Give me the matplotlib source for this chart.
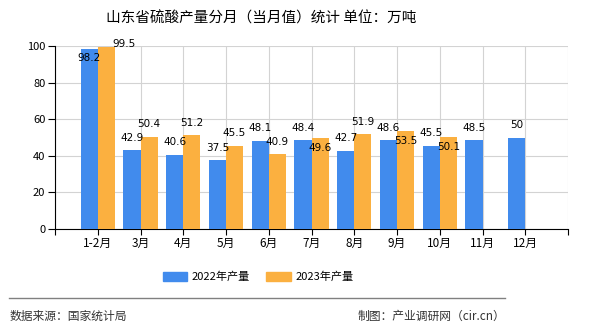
import matplotlib
matplotlib.use("Agg")
import matplotlib.pyplot as plt
from matplotlib.patches import Patch
import numpy as np

plt.rcParams['font.family'] = ['Noto Sans CJK SC', 'DejaVu Sans']

# data
months = ["1-2月", "3月", "4月", "5月", "6月", "7月", "8月", "9月", "10月", "11月", "12月"]
prod_2022 = [98.2, 42.9, 40.6, 37.5, 48.1, 48.4, 42.7, 48.6, 45.5, 48.5, 50]
prod_2023 = [99.5, 50.4, 51.2, 45.5, 40.9, 49.6, 51.9, 53.5, 50.1]

# label offsets in points (dx, dy), mimicking the original label layout
off_2022 = [(0, -6), (0, 9), (0, 9), (0, 9), (0, 9), (0, 9), (0, 9), (0, 9), (0, 9), (0, 9), (0, 9)]
off_2023 = [(13, 2), (0, 9), (0, 9), (0, 9), (0, 9), (0, -7), (0, 9), (0, -7), (0, -7)]

blue = "#418bed"
orange = "#fbb040"

fig = plt.figure(figsize=(5.9, 3.3), dpi=100)
ax = fig.add_axes([55 / 590, 1 - 229 / 330, 513 / 590, 183 / 330])

x = np.arange(len(months))
w = 0.4
ax.bar(x - w / 2, prod_2022, w, color=blue, zorder=3)
x23 = np.arange(len(prod_2023))
ax.bar(x23 + w / 2, prod_2023, w, color=orange, zorder=3)

for i, v in enumerate(prod_2022):
    dx, dy = off_2022[i]
    ax.annotate(f"{v:g}", (x[i] - w / 2, v), xytext=(dx, dy), textcoords="offset points",
                ha="center", va="center", fontsize=7.5, family="DejaVu Sans", zorder=5)
for i, v in enumerate(prod_2023):
    dx, dy = off_2023[i]
    ax.annotate(f"{v:g}", (x23[i] + w / 2, v), xytext=(dx, dy), textcoords="offset points",
                ha="center", va="center", fontsize=7.5, family="DejaVu Sans", zorder=5)

ax.set_xlim(-1, len(months))
ax.set_ylim(0, 100)
ticks = list(range(-1, len(months) + 1))
ax.set_xticks(ticks)
ax.set_xticklabels([""] + months + [""], fontsize=8.5)
ax.set_yticks(range(0, 101, 20))
ax.tick_params(axis="y", labelsize=8, length=5, pad=2)
ax.tick_params(axis="x", length=4, pad=2)
ax.grid(True, color="#d3d3d3", linewidth=0.8, zorder=0)
for s in ["top", "right"]:
    ax.spines[s].set_visible(False)
ax.spines["left"].set_color("black")
ax.spines["bottom"].set_color("black")

fig.text(261 / 590, 1 - 18 / 330, "山东省硫酸产量分月（当月值）统计 单位：万吨",
         ha="center", va="center", fontsize=10.5)

handles = [Patch(color=blue, label="2022年产量"), Patch(color=orange, label="2023年产量")]
fig.legend(handles=handles, loc="center", bbox_to_anchor=(258 / 590, 1 - 277 / 330), ncol=2,
           frameon=False, fontsize=8, handlelength=2.2, handleheight=0.8, columnspacing=1.5,
           handletextpad=0.4)

fig.add_artist(plt.Line2D([9 / 590, 505 / 590], [1 - 298 / 330, 1 - 298 / 330],
                          color="#808080", linewidth=1))
fig.text(10 / 590, 1 - 316 / 330, "数据来源：国家统计局", ha="left", va="center",
         fontsize=8.5, color="#333333")
fig.text(505 / 590, 1 - 316 / 330, "制图：产业调研网（cir.cn）", ha="right", va="center",
         fontsize=8.5, color="#333333")

fig.savefig("out.png", dpi=100)
